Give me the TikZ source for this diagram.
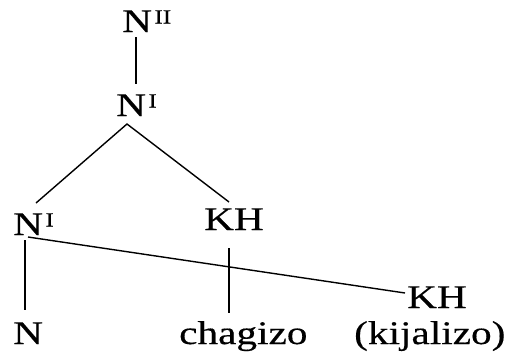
\documentclass[tikz,border=0pt]{standalone}
\usepackage{fontspec}
\setmainfont{Liberation Serif}[FakeStretch=1.25,FakeBold=0.4]
\usetikzlibrary{calc}
\newcommand\supnum[1]{\kern2.5pt\raisebox{8.5pt}{\fontsize{20}{20}\selectfont #1}}
\begin{document}
\begin{tikzpicture}[x=1pt,y=-1pt,
  lab/.style={inner sep=0pt,anchor=base west,font=\fontsize{33}{36}\selectfont},
  edge/.style={line width=1.4pt}]
\useasboundingbox (0,0) rectangle (512,354);
\node[lab] (nII) at (122,32) {N\supnum{II}};
\node[lab] (nIa) at (116,116) {N\supnum{I}};
\node[lab] (nIb) at (13,235) {N\supnum{I}};
\node[lab] (kh1) at (204,230) {KH};
\node[lab] (kh2) at (407,308) {KH};
\node[lab] (nB) at (13,344) {N};
\node[lab] (chag) at (179,344) {chagizo};
\node[lab] (kij) at (354,344) {(kijalizo)};
\draw[edge] ($(nII.base west)+(14,5)$) -- ($(nIa.base west)+(20,-32)$);
\draw[edge] ($(nIb.base west)+(23,-32)$) -- ($(nIa.base west)+(11,8)$) -- ($(kh1.base west)+(25,-28)$);
\draw[edge] ($(nIb.base west)+(15,2)$) -- ($(kh2.base west)+(-2,-15)$);
\draw[edge] ($(nIb.base west)+(12,5)$) -- ($(nB.base west)+(12,-34)$);
\draw[edge] ($(kh1.base west)+(25,18)$) -- ($(chag.base west)+(50,-31)$);
\end{tikzpicture}
\end{document}
